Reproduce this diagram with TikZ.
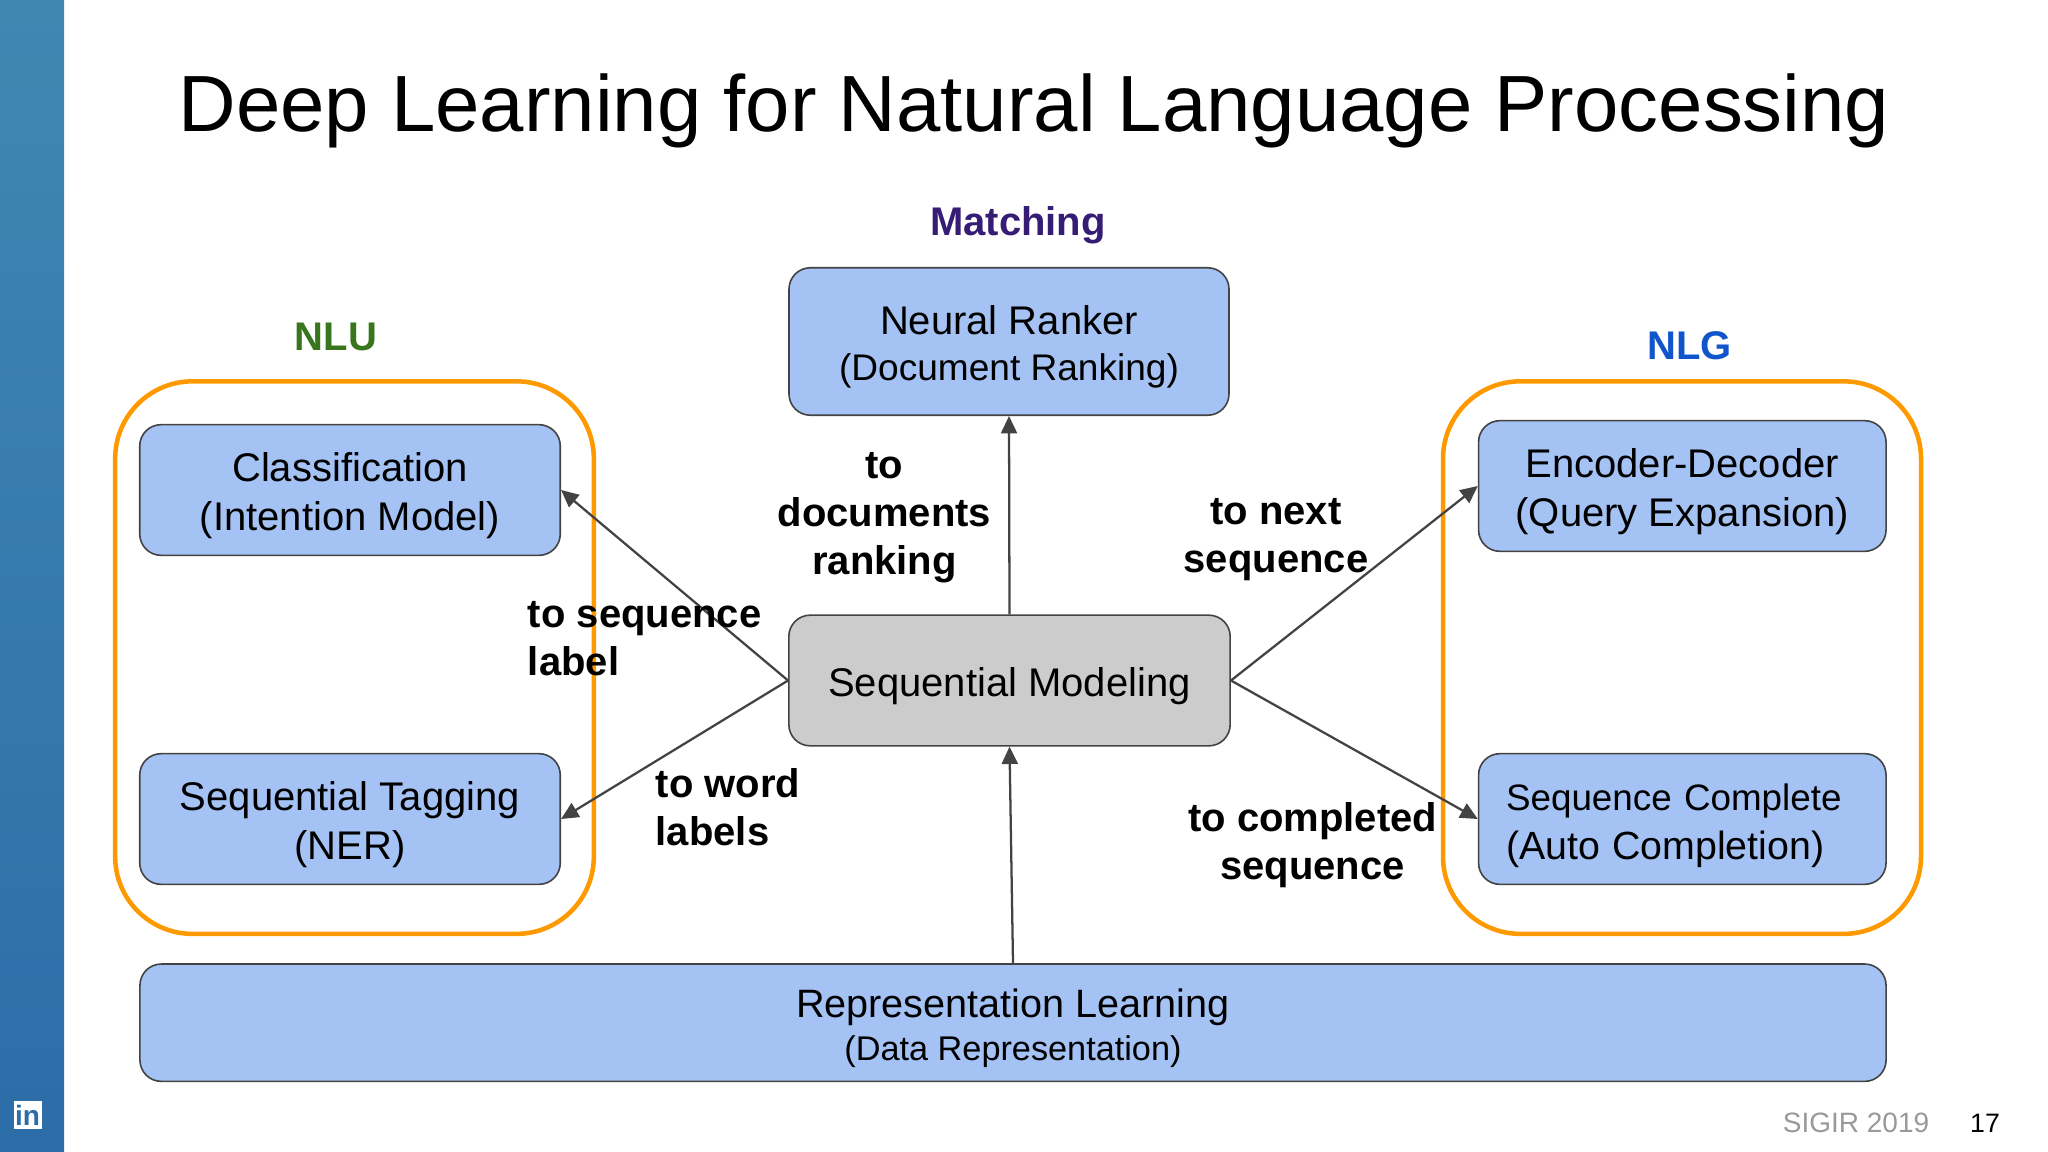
\documentclass[tikz,border=0pt]{standalone}
\usepackage{fontspec}
\setmainfont{Liberation Sans}
\usetikzlibrary{arrows.meta}
\definecolor{boxblue}{HTML}{A4C2F4}
\definecolor{boxgray}{HTML}{CCCCCC}
\definecolor{boxline}{HTML}{434343}
\definecolor{frameorange}{HTML}{FF9900}
\definecolor{stripetop}{HTML}{4088B2}
\definecolor{stripebot}{HTML}{2C6DA8}
\newcommand{\padtop}{\rule{0pt}{30pt}}
\tikzset{
    box/.style={draw=boxline,line width=1.2pt,fill=boxblue,rounded corners=16pt,align=center,inner sep=0pt,font=\fontsize{30}{36.5}\selectfont},
    frame/.style={draw=frameorange,line width=3.4pt,rounded corners=58pt,inner sep=0pt},
    link/.style={draw=boxline,line width=1.7pt,-{Triangle[length=13pt,width=12pt]}},
    tag/.style={inner sep=0pt,font=\fontsize{30}{36}\bfseries\selectfont},
    head/.style={inner sep=0pt,font=\fontsize{30}{36}\bfseries\selectfont}
}
\begin{document}
\begin{tikzpicture}[x=0.75pt,y=-0.75pt]
    \useasboundingbox (0,0) rectangle (2048,1152);
    \shade[top color=stripetop,bottom color=stripebot] (0,0) rectangle (64,1152);
    \node[fill=white,text=stripebot,minimum width=21pt,minimum height=21pt,inner sep=0pt,font=\fontsize{21}{21}\bfseries\selectfont] (logo) at (27.5,1115) {in};
    \node[inner sep=0pt,font=\fontsize{59.8}{66}\selectfont] (title) at (1034,111) {Deep Learning for Natural Language Processing};
    \node[head,text={rgb,255:red,53;green,28;blue,117}] (matching) at (1018,225) {Matching};
    \node[head,text={rgb,255:red,56;green,118;blue,29}] (nlu) at (336,337) {NLU};
    \node[head,text={rgb,255:red,17;green,85;blue,204}] (nlg) at (1689.5,346) {NLG};
    \begin{scope}[every node/.append style={frame}]
        \node[minimum width=359pt,minimum height=414.4pt] (left) at (354.5,657.6) {};
        \node[minimum width=358.5pt,minimum height=414.4pt] (right) at (1682,657.6) {};
    \end{scope}
    \begin{scope}[every node/.append style={box}]
        \node[minimum width=315.4pt,minimum height=98pt] (class) at (350,490) {\padtop Classification\\(Intention Model)};
        \node[minimum width=315.4pt,minimum height=98pt] (tagging) at (350,819) {\padtop Sequential Tagging\\(NER)};
        \node[minimum width=330pt,minimum height=110.6pt] (ranker) at (1009,341.5) {\padtop Neural Ranker\\[-2pt]{\fontsize{27.8}{33}\selectfont (Document Ranking)}};
        \node[minimum width=331pt,minimum height=98pt,fill=boxgray] (seq) at (1009.5,680.5) {\padtop Sequential Modeling};
        \node[minimum width=305.6pt,minimum height=98pt] (encoder) at (1682.3,486) {\padtop Encoder-Decoder\\(Query Expansion)};
        \node[minimum width=305.6pt,minimum height=98pt,align=left,font=\fontsize{27.6}{34.3}\selectfont,text width=264.4pt] (complete) at (1682.3,819) {\padtop Sequence Complete\\[2pt]{\fontsize{29.5}{34.3}\selectfont (Auto Completion)}};
        \node[minimum width=1309.6pt,minimum height=88pt] (repr) at (1013,1022.7) {\padtop{\fontsize{29.7}{36}\selectfont Representation Learning}\\[-4pt]{\fontsize{25.7}{30}\selectfont (Data Representation)}};
    \end{scope}
    \draw[link] (seq.north) -- (ranker.south);
    \draw[link] (seq.west) -- (class.east);
    \draw[link] (seq.west) -- (tagging.east);
    \draw[link] (seq.east) -- (encoder.west);
    \draw[link] (seq.east) -- (complete.west);
    \draw[link] (repr.north) -- (seq.south);
    \begin{scope}[every node/.append style={tag}]
        \node[align=center] (todoc) at (884.5,517.5) {to\\documents\\ranking};
        \node[align=left,anchor=west] (tolabel) at (527.7,638.6) {to sequence\\label};
        \node[align=center] (tonext) at (1276,540) {to next\\sequence};
        \node[align=left,anchor=west] (toword) at (655.6,807) {to word\\labels};
        \node[align=center] (tocompl) at (1312.6,845) {to completed\\sequence};
    \end{scope}
    \node[inner sep=0pt,text={rgb,255:red,153;green,153;blue,153},font=\fontsize{21}{26}\selectfont] (venue) at (1856,1123) {SIGIR 2019};
    \node[inner sep=0pt,font=\fontsize{20}{24}\selectfont] (page) at (1985,1123) {17};
\end{tikzpicture}
\end{document}
